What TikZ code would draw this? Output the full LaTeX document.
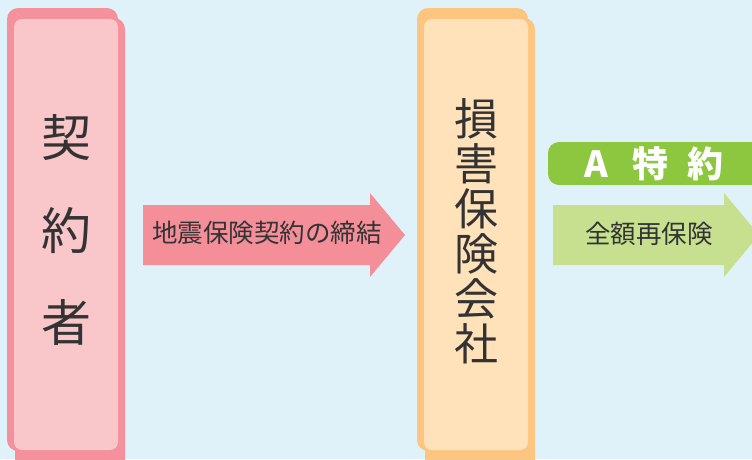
\documentclass[tikz,border=0pt]{standalone}
\usepackage{fontspec}
\newfontfamily\cjk{Noto Sans CJK JP}
\definecolor{bg}{HTML}{DFF2FA}
\definecolor{pinkdark}{HTML}{F4919C}
\definecolor{pinklight}{HTML}{F9C6C9}
\definecolor{orgdark}{HTML}{FDC680}
\definecolor{orglight}{HTML}{FFE1BA}
\definecolor{pinkarrow}{HTML}{F48F9A}
\definecolor{greendark}{HTML}{8DC63F}
\definecolor{greenlight}{HTML}{C6E08F}
\definecolor{txt}{HTML}{333333}
\tikzset{
  bigtxt/.style={font=\cjk\fontsize{50}{50}\selectfont, text=txt, inner sep=0pt},
  midtxt/.style={font=\cjk\fontsize{44}{45}\selectfont, text=txt, inner sep=0pt, align=center},
  arrtxt/.style={font=\cjk\fontsize{25.5}{27}\selectfont, text=txt, inner sep=0pt},
  labtxt/.style={font=\cjk\bfseries\fontsize{36}{36}\selectfont, text=white, inner sep=0pt}
}
\begin{document}
\begin{tikzpicture}[x=1pt,y=-1pt]
\useasboundingbox (0,0) rectangle (752,459);
\fill[bg] (0,0) rectangle (752,459);
% left box
\fill[pinkdark, rounded corners=11pt] (7,8) rectangle (118,451);
\fill[pinkdark, rounded corners=11pt] (15,18) rectangle (125,470);
\fill[pinklight, rounded corners=8pt] (14,19) rectangle (118,450);
\node[bigtxt] (k1) at (66,138) {契};
\node[bigtxt] (k2) at (66,231) {約};
\node[bigtxt] (k3) at (66,322) {者};
% right box
\fill[orgdark, rounded corners=11pt] (417,8) rectangle (528,451);
\fill[orgdark, rounded corners=11pt] (425,18) rectangle (535,470);
\fill[orglight, rounded corners=8pt] (424,19) rectangle (528,450);
\node[midtxt] (co) at (476,231) {損\\害\\保\\険\\会\\社};
% pink arrow
\fill[pinkarrow] (143,205) -- (370,205) -- (370,193) -- (405,235) -- (370,277) -- (370,265) -- (143,265) -- cycle;
\node[arrtxt] (a1) at (267,233) {地震保険契約の締結};
% green label
\fill[greendark, rounded corners=11pt] (548,142) rectangle (770,185);
\node[labtxt] (lA) at (596,164) {A};
\node[labtxt] (l2) at (650,164) {特};
\node[labtxt] (l3) at (705,164) {約};
% green arrow
\fill[greenlight] (553,205) -- (724,205) -- (724,193) -- (759,235) -- (724,277) -- (724,265) -- (553,265) -- cycle;
\node[arrtxt] (a2) at (649,234) {全額再保険};
\end{tikzpicture}
\end{document}
